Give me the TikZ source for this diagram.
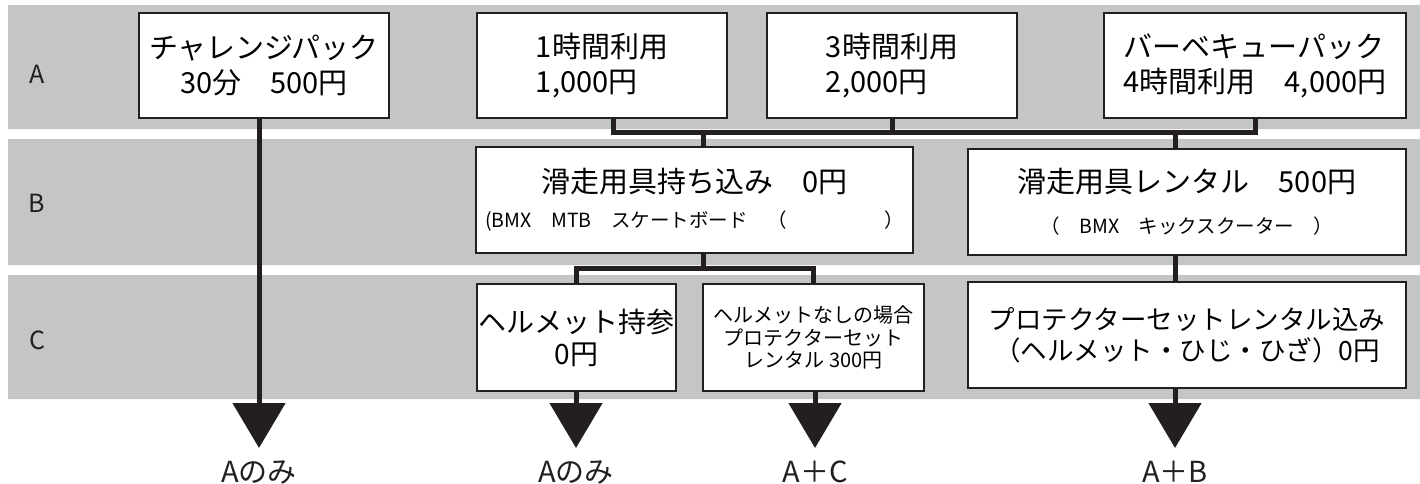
\documentclass[tikz,border=0pt]{standalone}
\usepackage{fontspec}
\setmainfont{Noto Sans CJK JP}
\usetikzlibrary{arrows.meta}
\usetikzlibrary{calc}

\definecolor{bandgray}{RGB}{196,197,199}
\definecolor{inkblack}{RGB}{35,31,32}

\begin{document}
\begin{tikzpicture}[x=1pt,y=-1pt,
	box/.style={draw=inkblack,line width=2.5pt,fill=white,inner sep=0pt,align=center,
		font=\fontsize{29}{35}\selectfont},
	rowlabel/.style={font=\fontsize{25}{30}\selectfont,text=inkblack},
	link/.style={draw=inkblack,line width=5pt},
	goal/.style={link,-{Triangle[width=52pt,length=45pt]}},
	result/.style={font=\fontsize{29}{35}\selectfont,text=inkblack,inner sep=0pt,
		outer sep=10pt,text height=24pt,anchor=base}]
	\useasboundingbox (0,0) rectangle (1420,483);

	% rows
	\fill[bandgray] (8,5) rectangle (1420,129)
	(8,139) rectangle (1420,265)
	(8,275) rectangle (1420,399);
	\node[rowlabel] (rowA) at (37,74) {A};
	\node[rowlabel] (rowB) at (37,203) {B};
	\node[rowlabel] (rowC) at (37,340) {C};

	% A
	\node[box,minimum width=250pt,minimum height=105pt] (challenge) at (264,65.5)
	{チャレンジパック\\30分　500円};
	\node[box,align=left,minimum width=250pt,minimum height=105pt] (hour1) at (602,65.5)
	{1時間利用\\1,000円};
	\node[box,align=left,minimum width=250pt,minimum height=105pt] (hour3) at (892,65.5)
	{3時間利用\\2,000円};
	\node[box,align=left,minimum width=302pt,minimum height=105pt] (bbq) at (1255,65.5)
	{バーベキューパック\\4時間利用　4,000円};

	% B
	\node[box,minimum width=437pt,minimum height=106pt] (bring) at (694.5,200)
	{滑走用具持ち込み　0円\\{\fontsize{19.5}{23}\selectfont (BMX　MTB　スケートボード　（　　　　　）}};
	\node[box,minimum width=438pt,minimum height=106pt] (rental) at (1187,202)
	{滑走用具レンタル　500円\\[6pt]{\fontsize{19.5}{23}\selectfont （　BMX　キックスクーター　）}};

	% C
	\node[box,font=\fontsize{28}{32}\selectfont,minimum width=199pt,minimum height=107pt] (helmet) at (576.5,337.5)
	{ヘルメット持参\\0円};
	\node[box,font=\fontsize{20}{22.5}\selectfont,minimum width=221pt,minimum height=107pt] (nohelmet) at (813.5,337.5)
	{ヘルメットなしの場合\\プロテクターセット\\レンタル 300円};
	\node[box,font=\fontsize{26.5}{31}\selectfont,minimum width=438pt,minimum height=106pt] (protector) at (1187,335)
	{プロテクターセットレンタル込み\\（ヘルメット・ひじ・ひざ）0円};

	% results
	\node[result] (resA1) at (259,482) {Aのみ};
	\node[result] (resA2) at (576,482) {Aのみ};
	\node[result] (resAC) at (815,482) {A＋C};
	\node[result] (resAB) at (1175,482) {A＋B};

	% links
	\coordinate (jA) at (703,132);
	\coordinate (jB) at (703,268);
	\draw[link] ([xshift=11pt]hour1.south) |- (jA) -| (bbq.south);
	\draw[link] (hour3.south) -- (hour3.south |- jA);
	\draw[link] (jA) -- (jA |- bring.north);
	\draw[link] (resAB |- jA) -- (resAB |- rental.north);
	\draw[link] (jB |- bring.south) -- (jB);
	\draw[link] (helmet.north) |- (jB) -| (nohelmet.north);
	\draw[link] (resAB |- rental.south) -- (resAB |- protector.north);

	\draw[goal] (resA1 |- challenge.south) -- (resA1.north);
	\draw[goal] (resA2 |- helmet.south) -- (resA2.north);
	\draw[goal] (resAC |- nohelmet.south) -- (resAC.north);
	\draw[goal] (resAB |- protector.south) -- (resAB.north);
\end{tikzpicture}
\end{document}
